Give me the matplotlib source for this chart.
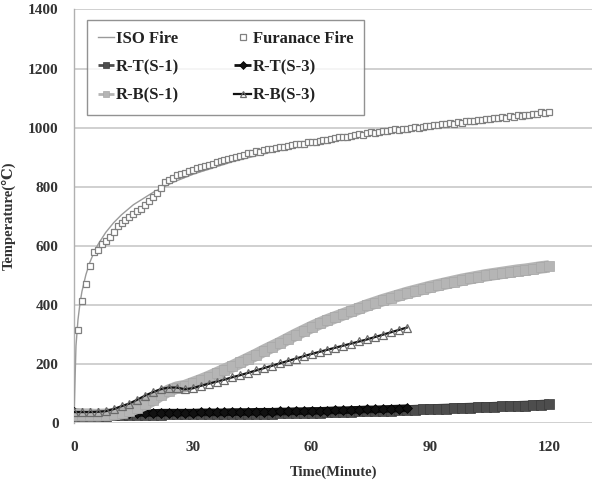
import matplotlib
matplotlib.use("Agg")
import matplotlib.pyplot as plt

plt.rcParams['font.family'] = ['Liberation Serif', 'DejaVu Serif']
plt.rcParams['font.weight'] = 'bold'

# ---- data ----
iso_t = [0, 0.5, 1, 1.5, 2, 3, 4, 5, 6, 8, 10, 12, 15, 20, 25, 30, 40, 50, 60, 70, 80, 90, 100, 110, 120]
iso_T = [20, 261, 349, 404, 445, 502, 544, 576, 603, 645, 678, 705, 739, 781, 815, 842, 885, 918, 945, 968, 988, 1006, 1022, 1036, 1049]

furn_t = list(range(1, 121))
furn_T = [315, 414, 470, 530, 580, 585, 605, 615, 630, 645,
          668, 678, 688, 699, 708, 717, 725, 738, 752, 765,
          780, 797, 815, 822, 830, 838, 842, 846, 852, 858,
          862, 866, 870, 874, 878, 882, 886, 890, 895, 898,
          902, 905, 908, 913, 915, 920, 918, 925, 928, 927,
          932, 935, 933, 938, 941, 943, 946, 945, 950, 952,
          950, 955, 958, 957, 961, 964, 968, 970, 968, 973,
          975, 978, 976, 982, 984, 981, 986, 989, 987, 991,
          994, 992, 997, 995, 999, 1001, 998, 1003, 1006, 1004,
          1010, 1008, 1013, 1011, 1016, 1014, 1019, 1017, 1022, 1024,
          1021, 1027, 1025, 1030, 1028, 1033, 1031, 1036, 1034, 1039,
          1037, 1042, 1040, 1044, 1042, 1047, 1045, 1052, 1050, 1052]

t_s1 = list(range(0, 121, 2))
t_s3 = list(range(0, 85, 2))

rt_s1 = [25, 25, 25, 25, 25, 26, 26, 27, 27, 28, 28, 28, 29, 29, 29, 30, 30, 30, 31, 31,
         31, 31, 32, 32, 32, 32, 33, 33, 33, 34, 34, 35, 36, 36, 37, 38, 39, 40, 40, 41,
         42, 43, 44, 45, 46, 47, 48, 49, 50, 51, 52, 53, 54, 55, 56, 57, 58, 59, 60, 62, 63]

rt_s3 = [36, 35, 35, 34, 34, 34, 34, 34, 34, 34, 34, 35, 35, 35, 35, 35, 36, 36, 36, 36,
         37, 37, 37, 38, 38, 38, 39, 39, 40, 40, 41, 41, 42, 43, 43, 44, 45, 46, 46, 47,
         48, 49, 50]

rb_s1 = [27, 27, 27, 27, 28, 30, 34, 42, 52, 64, 78, 96, 110, 120, 125, 135, 145, 156, 168, 180,
         192, 205, 218, 231, 245, 258, 271, 285, 299, 312, 325, 337, 348, 358, 368, 378, 388, 398, 407, 416,
         424, 432, 440, 447, 454, 461, 467, 473, 479, 485, 490, 495, 500, 504, 508, 512, 516, 519, 523, 527, 530]

rb_s3 = [37, 37, 37, 38, 40, 47, 57, 66, 79, 93, 105, 115, 120, 120, 114, 118, 126, 133, 140, 147,
         155, 162, 170, 178, 186, 194, 202, 210, 218, 226, 234, 241, 248, 255, 262, 269, 276, 283, 291, 299,
         307, 315, 323]

x_ticks = [0, 30, 60, 90, 120]
y_ticks = [0, 200, 400, 600, 800, 1000, 1200, 1400]

# ---- figure ----
fig = plt.figure(figsize=(5.93, 4.86), dpi=100)
ax = fig.add_axes([74 / 593, (486 - 423) / 486, 518 / 593, 413.5 / 486])

h_iso, = ax.plot(iso_t, iso_T, color='#9a9a9a', lw=1.0, label='ISO Fire', zorder=3)
h_fur, = ax.plot(furn_t, furn_T, ls='none', marker='s', ms=5, mfc='white', mec='#808080', mew=0.9,
                 label='Furanace Fire', zorder=4)
h_rt1, = ax.plot(t_s1, rt_s1, color='#4d4d4d', lw=7, marker='s', ms=7, mfc='#4d4d4d', mec='#3a3a3a',
                 mew=0.5, label='R-T(S-1)', zorder=5, solid_capstyle='butt')
h_rt3, = ax.plot(t_s3, rt_s3, color='#111111', lw=5.5, marker='D', ms=5.5, mfc='#111111', mec='#000000',
                 mew=0.5, label='R-T(S-3)', zorder=6, solid_capstyle='butt')
h_rb1, = ax.plot(t_s1, rb_s1, color='#b5b5b5', lw=9, marker='s', ms=7, mfc='#b5b5b5', mec='#a8a8a8',
                 mew=0.5, label='R-B(S-1)', zorder=7, solid_capstyle='butt')
h_rb3, = ax.plot(t_s3, rb_s3, color='#111111', lw=1.6, marker='^', ms=6, mfc='none', mec='#6a6a6a',
                 mew=0.9, label='R-B(S-3)', zorder=8)

ax.set_xlim(0, 130.8)
ax.set_ylim(0, 1400)
ax.set_xticks(x_ticks)
ax.set_yticks(y_ticks)
ax.tick_params(axis='both', length=0, labelsize=11)
ax.tick_params(axis='y', pad=11)
ax.tick_params(axis='x', pad=13)
for lab in ax.get_xticklabels() + ax.get_yticklabels():
    lab.set_fontweight('bold')
    lab.set_color('#333333')

ax.grid(axis='y', color='#c8c8c8', lw=1.2)
ax.set_axisbelow(True)
for s in ['top', 'right', 'bottom']:
    ax.spines[s].set_visible(False)
ax.spines['left'].set_color('#b0b0b0')
ax.spines['left'].set_linewidth(1.0)

ax.set_xlabel('Time(Minute)', fontsize=10.5, fontweight='bold', color='#333333', labelpad=8)
ax.set_ylabel('Temperature(℃)', fontsize=10.5, fontweight='bold', color='#333333')
ax.yaxis.set_label_coords(-58 / 518, 0.5)

handles = [h_iso, h_rt1, h_rb1, h_fur, h_rt3, h_rb3]
labels = [h.get_label() for h in handles]
leg = ax.legend(handles, labels, loc='upper left', bbox_to_anchor=(0.025, 0.975), ncol=2,
                frameon=True, fancybox=False, edgecolor='#777777', handlelength=1.0,
                handletextpad=0.1, columnspacing=3.3, labelspacing=0.75, borderpad=0.65,
                borderaxespad=0.0, prop={'weight': 'bold', 'size': 12})
leg.get_frame().set_linewidth(1.0)
for h in leg.legend_handles:
    h.set_linewidth(min(h.get_linewidth(), 2.0))
    h.set_markersize(4)
for txt in leg.get_texts():
    txt.set_color('#222222')

fig.savefig('out.png', dpi=100)
